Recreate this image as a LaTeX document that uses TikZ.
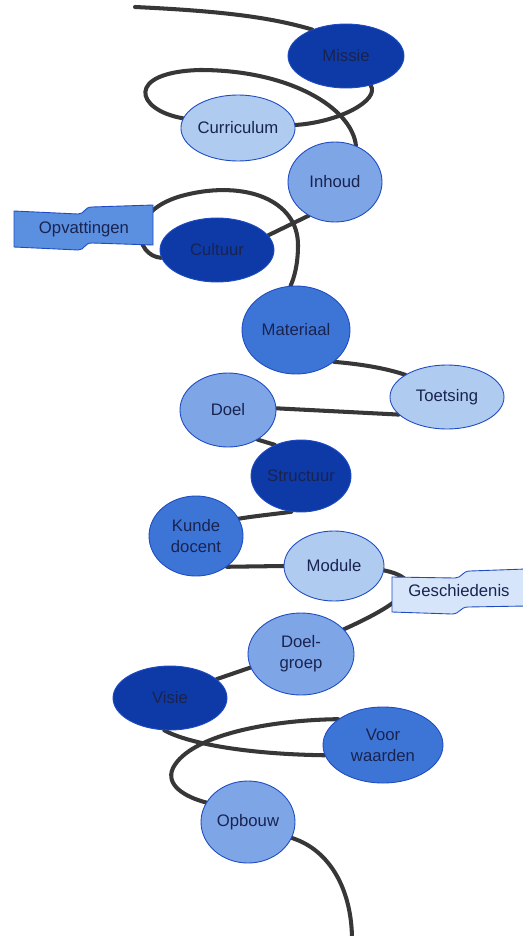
\documentclass[tikz,border=0pt]{standalone}
\usepackage{fontspec}
\setmainfont{Liberation Sans}
\usetikzlibrary{shapes.geometric}
\definecolor{darkblob}{RGB}{14,58,168}
\definecolor{midblob}{RGB}{61,117,214}
\definecolor{midlightblob}{RGB}{126,165,230}
\definecolor{lightblob}{RGB}{176,203,240}
\definecolor{paleblob}{RGB}{214,229,250}
\definecolor{flagblue}{RGB}{91,143,223}
\definecolor{edgeblue}{RGB}{30,75,195}
\definecolor{wirecol}{RGB}{55,55,55}
\definecolor{inktext}{RGB}{25,35,80}
\pgfdeclarelayer{wires}
\pgfsetlayers{wires,main}

\begin{document}
\begin{tikzpicture}[x=0.02cm, y=-0.02cm,
  blob/.style={ellipse, draw=edgeblue, line width=0.5pt, inner sep=0pt,
    align=center, text=inktext, font=\fontsize{9.5}{12}\selectfont},
  dims/.style 2 args={minimum width=#1*0.02cm, minimum height=#2*0.02cm},
  wire/.style={draw=wirecol, line width=2.3pt, line cap=round},
  flag/.style={fill=#1, draw=edgeblue, line width=0.5pt},
  flagtext/.style={text=inktext, inner sep=0pt, font=\fontsize{9.5}{12}\selectfont}]

  \useasboundingbox (0,0) rectangle (523,936);

  % banners
  \draw[flag=flagblue] (14,211) -- (78,214) .. controls (85,214) and (84,207) .. (92,207)
    -- (153,205) -- (153,245) -- (92,243) .. controls (84,243) and (85,250) .. (78,250)
    -- (14,247) -- cycle;
  \node[flagtext] (opvattingen) at (84,229) {Opvattingen};
  \draw[flag=paleblob] (392,577) -- (455,578) .. controls (462,578) and (462,571) .. (470,571)
    -- (526,569) -- (526,606) -- (468,607) .. controls (460,607) and (460,614) .. (452,614)
    -- (392,612) -- cycle;
  \node[flagtext] (geschiedenis) at (459,591) {Geschiedenis};

  % ellipses
  \node[blob, dims={116}{64}, fill=darkblob] (missie) at (346,56) {Missie};
  \node[blob, dims={114}{66}, fill=lightblob] (curriculum) at (238,128) {Curriculum};
  \node[blob, dims={94}{80}, fill=midlightblob] (inhoud) at (335,182) {Inhoud};
  \node[blob, dims={114}{64}, fill=darkblob] (cultuur) at (217,250) {Cultuur};
  \node[blob, dims={108}{88}, fill=midblob] (materiaal) at (296,330) {Materiaal};
  \node[blob, dims={114}{64}, fill=lightblob] (toetsing) at (447,397) {Toetsing};
  \node[blob, dims={96}{74}, fill=midlightblob] (doel) at (228,410) {Doel};
  \node[blob, dims={100}{72}, fill=darkblob] (structuur) at (301,476) {Structuur};
  \node[blob, dims={94}{80}, fill=midblob] (kunde) at (196,536) {Kunde\\docent};
  \node[blob, dims={100}{70}, fill=lightblob] (module) at (334,566) {Module};
  \node[blob, dims={106}{82}, fill=midlightblob] (doelgroep) at (301,654) {Doel-\\groep};
  \node[blob, dims={114}{64}, fill=darkblob] (visie) at (170,698) {Visie};
  \node[blob, dims={120}{76}, fill=midblob] (voorwaarden) at (383,745) {Voor\\waarden};
  \node[blob, dims={94}{82}, fill=midlightblob] (opbouw) at (248,822) {Opbouw};

  \coordinate (head) at (135,7);
  \coordinate (tail) at (352,940);

  % the thread, behind everything
  \begin{pgfonlayer}{wires}
    \fill[white] (0,0) rectangle (523,936);
    \draw[wire] (head) .. controls (220,11) and (270,17) .. (missie.142);
    \draw[wire] (missie.-50) .. controls (380,100) and (340,122) .. (curriculum.3);
    \draw[wire] (curriculum.170) .. controls (135,110) and (125,72) .. (200,70)
      .. controls (290,70) and (352,108) .. (inhoud.60);
    \draw[wire] (inhoud.232) -- (cultuur.16);
    \draw[wire] (cultuur.188) .. controls (135,256) and (125,210) .. (185,195)
      .. controls (245,180) and (298,200) .. (298,245)
      .. controls (298,265) and (294,278) .. (materiaal.97);
    \draw[wire] (materiaal.-40) .. controls (360,364) and (385,368) .. (toetsing.152);
    \draw[wire] (toetsing.200) -- (doel.2);
    \draw[wire] (doel.-45) -- (structuur.130);
    \draw[wire] (structuur.-105) .. controls (275,514) and (255,516) .. (kunde.22);
    \draw[wire] (kunde.-45) -- (module.180);
    \draw[wire] (module.-5) .. controls (420,578) and (420,595) .. (doelgroep.30);
    \draw[wire] (doelgroep.195) -- (visie.22);
    \draw[wire] (visie.-100) .. controls (185,742) and (240,754) .. (voorwaarden.190);
    \draw[wire] (voorwaarden.150) .. controls (270,720) and (190,735) .. (173,768)
      .. controls (165,785) and (185,797) .. (opbouw.155);
    \draw[wire] (opbouw.-20) .. controls (330,850) and (352,890) .. (tail);
  \end{pgfonlayer}

\end{tikzpicture}
\end{document}
